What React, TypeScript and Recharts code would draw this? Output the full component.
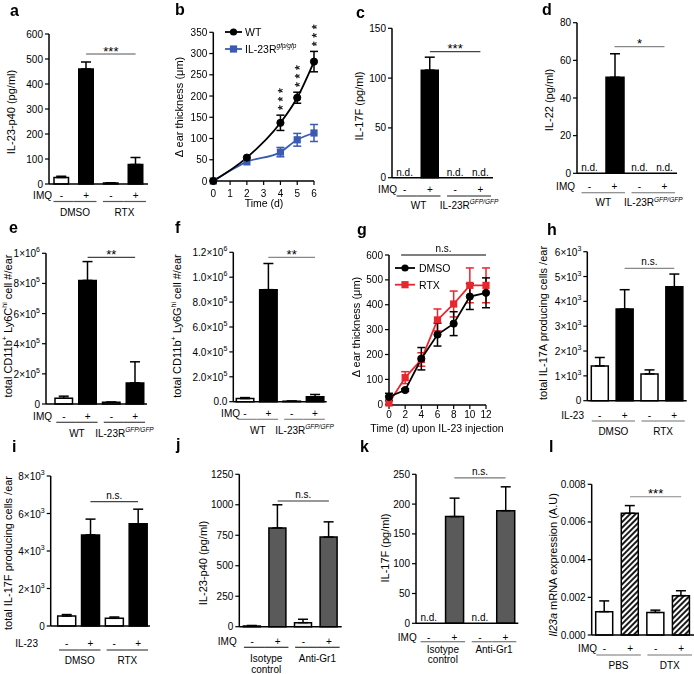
import React from 'react';
import {
  BarChart, Bar, XAxis, YAxis, ErrorBar, Cell, ReferenceLine,
  ComposedChart, Line, Legend,
} from 'recharts';

const W = 694;
const H = 674;
const YW = 30;
const XH = 30;
const FONT = '"Liberation Sans", Arial, Helvetica, sans-serif';
const BLUE = '#3b5bb3';
const RED = '#e8262d';
const DARK = '#5a5a5a';

// ---------------- data ----------------
const imqSigns = ['-', '+', '-', '+'];

// a
const aValues = [26, 460, 4, 78];
const aErrors = [5, 28, 1, 28];
const aTicks = [0, 100, 200, 300, 400, 500, 600];
const aGroups = ['DMSO', 'RTX'];
const aSig = 520;

// b
const bDays = [0, 2, 4, 5, 6];
const bWT = [0, 55, 137, 196, 281];
const bWTErr = [0, 0, 18, 13, 24];
const bKO = [0, 45, 68, 97, 113];
const bKOErr = [0, 0, 11, 15, 20];
const bStarBase = [null, null, 155, 209, 305];
const bXTicks = [0, 1, 2, 3, 4, 5, 6];
const bYTicks = [0, 50, 100, 150, 200, 250, 300, 350];

// c
const cValues = [0, 108, 0, 0];
const cErrors = [0, 13, 0, 0];
const cND = [true, false, true, true];
const cTicks = [0, 50, 100, 150];
const cSig = 126.5;

// d
const dValues = [0, 51, 0, 0];
const dErrors = [0, 12.5, 0, 0];
const dND = [true, false, true, true];
const dTicks = [0, 20, 40, 60, 80];
const dSig = 67.3;

// e
const eValues = [38000, 820000, 11000, 140000];
const eErrors = [14000, 125000, 2000, 140000];
const eTicks = [0, 200000, 400000, 600000, 800000, 1000000];
const eSig = 973000;

// f
const fValues = [25000, 900000, 4000, 40000];
const fErrors = [8000, 210000, 1000, 18000];
const fTicks = [0, 200000, 400000, 600000, 800000, 1000000, 1200000];
const fSig = 1160000;

// g
const gDays = [0, 2, 4, 6, 8, 10, 12];
const gDMSO = [30, 57, 183, 280, 324, 433, 448];
const gDMSOErr = [14, 5, 45, 46, 48, 52, 60];
const gRTX = [5, 107, 180, 339, 403, 478, 478];
const gRTXErr = [8, 24, 27, 44, 52, 70, 70];
const gXTicks = [0, 2, 4, 6, 8, 10, 12];
const gYTicks = [0, 100, 200, 300, 400, 500, 600];

// h
const hValues = [1400, 3690, 1080, 4590];
const hErrors = [340, 780, 160, 510];
const hTicks = [0, 1000, 2000, 3000, 4000, 5000, 6000];
const hSig = 5330;

// i
const iValues = [530, 4860, 410, 5450];
const iErrors = [80, 840, 70, 780];
const iTicks = [0, 2000, 4000, 6000, 8000];
const iSig = 6630;

// j
const jValues = [5, 810, 33, 735];
const jErrors = [5, 190, 28, 125];
const jTicks = [0, 250, 500, 750, 1000, 1250];
const jSig = 1031;

// k
const kValues = [0, 179, 0, 189];
const kErrors = [0, 31, 0, 40];
const kND = [true, false, true, false];
const kTicks = [0, 50, 100, 150, 200, 250];
const kSig = 244;

// l
const lValues = [0.00124, 0.00646, 0.0012, 0.00209];
const lErrors = [0.00057, 0.00041, 0.00012, 0.00026];
const lTicks = [0, 0.002, 0.004, 0.006, 0.008];
const lSig = 0.00734;

// ---------------- helpers ----------------
const TXT = { fontSize: 10, fontFamily: FONT, fill: '#000' };

const plainFmt = (v: number) => String(v);
const fixedFmt = (d: number) => (v: number) => v.toFixed(d);
const expFmt = (dec: number) => (v: number): React.ReactNode => {
  if (v === 0) return dec ? (0).toFixed(dec) : '0';
  const e = Math.floor(Math.log10(v) + 1e-9);
  const m = v / Math.pow(10, e);
  return (
    <>
      <tspan>{m.toFixed(dec)}×10</tspan>
      <tspan dy={-4} fontSize={7}>{e}</tspan>
    </>
  );
};

function RotLabel({ x, y, children }: any) {
  return (
    <text x={x} y={y} transform={`rotate(-90 ${x} ${y})`} textAnchor="middle"
      dominantBaseline="central" fontSize={11} fontFamily={FONT} fill="#000">
      {children}
    </text>
  );
}

const sigLabel = (text: string) => (lp: any) => {
  const vb = (lp && lp.viewBox) || {};
  const cx = (vb.x ?? 0) + (vb.width ?? 0) / 2;
  const cy = vb.y ?? 0;
  const star = text.includes('*');
  return (
    <text x={cx} y={star ? cy - 3 : cy - 6.5} textAnchor="middle" dominantBaseline="central"
      fontSize={star ? 13 : 10} fontFamily={FONT} fill="#000">{text}</text>
  );
};

type Group = { lines: string[]; sup?: string };
type BarLayout = {
  x0: number; x1: number; yTop: number; yBottom: number; padL: number; barSize: number;
  signDy: number; lineDy: number; labelDy: number; lineGap?: number; rowLabelX: number;
  yLabelX: number; yLabelY: number; lineColor: string;
};
type BarSpec = {
  values: number[]; errors: number[]; nd?: boolean[]; fills: string[];
  signs: string[]; rowLabel: string; groups: Group[];
  ticks: number[]; fmt: (v: number) => React.ReactNode; yLabel: React.ReactNode;
  sig: number; sigText: string; L: BarLayout; defs?: React.ReactNode;
};

function BarPanel({ s }: { s: BarSpec }) {
  const L = s.L;
  const data = s.values.map((v, i) => ({
    k: 'c' + i,
    v,
    err: s.errors[i] > 0 ? [0, s.errors[i]] : null,
  }));
  const band = (L.x1 - L.x0 - L.padL) / data.length;
  const ymax = s.ticks[s.ticks.length - 1];
  const XTick = (p: any) => {
    const { x, y, index } = p;
    const first = index % 2 === 0;
    const lx1 = first ? x - 0.32 * band : x - band / 2;
    const lx2 = first ? x + band / 2 : x + 0.42 * band;
    const g = first ? s.groups[index / 2] : null;
    return (
      <g>
        {s.nd && s.nd[index] && (
          <text x={x} y={y - 5.5} textAnchor="middle" dominantBaseline="central" {...TXT}>n.d.</text>
        )}
        {index === 0 && (
          <text x={L.rowLabelX} y={y + L.signDy} textAnchor="end" dominantBaseline="central" {...TXT}>{s.rowLabel}</text>
        )}
        <text x={x} y={y + L.signDy} textAnchor="middle" dominantBaseline="central" {...TXT}>{s.signs[index]}</text>
        <line x1={lx1} x2={lx2} y1={y + L.lineDy} y2={y + L.lineDy} stroke={L.lineColor} strokeWidth={1.2} />
        {g && g.lines.map((t, li) => (
          <text key={li} x={x + 0.55 * band} y={y + L.labelDy + li * (L.lineGap || 11)} textAnchor="middle"
            dominantBaseline="central" {...TXT}>
            {t}
            {li === 0 && g.sup ? <tspan dy={-4} fontSize={6.5} fontStyle="italic">{g.sup}</tspan> : null}
          </text>
        ))}
      </g>
    );
  };
  const YTick = (p: any) => (
    <text x={p.x} y={p.y} textAnchor="end" dominantBaseline="central" {...TXT}>{s.fmt(p.payload.value)}</text>
  );
  return (
    <div style={{ position: 'absolute', left: 0, top: 0 }}>
      <BarChart width={W} height={H} data={data} style={{ fontFamily: FONT }}
        margin={{ top: L.yTop, right: W - L.x1, bottom: H - L.yBottom - XH, left: L.x0 - YW }}>
        {s.defs}
        <XAxis dataKey="k" height={XH} tickLine={false} tickSize={0} tickMargin={0} interval={0}
          axisLine={{ stroke: '#000', strokeWidth: 1.5 }} padding={{ left: L.padL, right: 0 }} tick={XTick} />
        <YAxis width={YW} type="number" domain={[0, ymax]} ticks={s.ticks} interval={0} tickSize={4} tickMargin={2}
          tickLine={{ stroke: '#000', strokeWidth: 1.2 }} axisLine={{ stroke: '#000', strokeWidth: 1.5 }} tick={YTick}
          label={{ content: () => <RotLabel x={L.yLabelX} y={L.yLabelY}>{s.yLabel}</RotLabel> }} />
        <ReferenceLine segment={[{ x: 'c1', y: s.sig }, { x: 'c3', y: s.sig }]} stroke={L.lineColor}
          strokeWidth={1.2} ifOverflow="visible" label={{ content: sigLabel(s.sigText) }} />
        <Bar dataKey="v" barSize={L.barSize} stroke="#000" strokeWidth={1.5} isAnimationActive={false}>
          {data.map((d, i) => <Cell key={i} fill={s.fills[i]} />)}
          <ErrorBar dataKey="err" width={5} stroke="#000" strokeWidth={1.5} direction="y" />
        </Bar>
      </BarChart>
    </div>
  );
}

type Series = { name: string; sup?: string; vals: number[]; errs: number[]; color: string; shape: 'circle' | 'square' };
type LineLayout = {
  x0: number; x1: number; yTop: number; yBottom: number; tickDy: number; xLabelX: number; xLabelY: number;
  yLabelX: number; yLabelY: number; legendX: number; legendY: number; legendGap: number; iconLen: number; textX: number;
};
type LineSpec = {
  days: number[]; series: Series[]; legendOrder: number[]; stars?: (number | null)[];
  xTicks: number[]; yTicks: number[]; xLabel: string; yLabel: React.ReactNode;
  curve: 'linear' | 'monotone'; sig?: { x1: number; x2: number; y: number; text: string }; L: LineLayout;
};

const circleDot = (color: string) => (p: any) =>
  p.cx == null || p.cy == null ? <g key={'n' + p.index} /> : <circle key={'c' + p.index} cx={p.cx} cy={p.cy} r={3.6} fill={color} stroke={color} />;
const squareDot = (color: string) => (p: any) =>
  p.cx == null || p.cy == null ? <g key={'n' + p.index} /> : <rect key={'s' + p.index} x={p.cx - 3.6} y={p.cy - 3.6} width={7.2} height={7.2} fill={color} />;
// three significance stars stacked vertically: one text run turned upright
const starDot = (p: any) => {
  if (p.cx == null || p.cy == null || p.value == null) return <g key={'n' + p.index} />;
  const ox = Math.round(p.cx);
  const oy = p.cy - 5.2;
  return (
    <g key={'st' + p.index} opacity={0.999}>
      <text x={ox} y={oy + 2.7} transform={`rotate(-90 ${ox} ${oy})`} textAnchor="start"
        dominantBaseline="central" fontSize={12} letterSpacing={3.8} fontFamily={FONT}
        fill="#000" stroke="#000" strokeWidth={0.25}>***</text>
    </g>
  );
};

function LegendSvg({ items, L }: { items: Series[]; L: LineLayout }) {
  return (
    <svg width={130} height={L.legendGap * items.length + 8} style={{ display: 'block', overflow: 'visible' }}>
      {items.map((it, i) => {
        const cy = 8 + i * L.legendGap;
        const mx = L.iconLen / 2;
        return (
          <g key={i}>
            <line x1={0} x2={L.iconLen} y1={cy} y2={cy} stroke={it.color} strokeWidth={1.8} />
            {it.shape === 'circle'
              ? <circle cx={mx} cy={cy} r={3.6} fill={it.color} />
              : <rect x={mx - 3.6} y={cy - 3.6} width={7.2} height={7.2} fill={it.color} />}
            <text x={L.textX} y={cy} dominantBaseline="central" fontSize={10.5} fontFamily={FONT} fill="#000">
              {it.name}
              {it.sup ? <tspan dy={-4} fontSize={6.5} fontStyle="italic">{it.sup}</tspan> : null}
            </text>
          </g>
        );
      })}
    </svg>
  );
}

function LinePanel({ s }: { s: LineSpec }) {
  const L = s.L;
  const data = s.days.map((d, i) => {
    const o: any = { x: d };
    s.series.forEach((se, j) => {
      o['v' + j] = se.vals[i];
      o['e' + j] = se.errs[i] > 0 ? se.errs[i] : null;
    });
    if (s.stars) o.st = s.stars[i];
    return o;
  });
  const xmax = s.xTicks[s.xTicks.length - 1];
  const ymax = s.yTicks[s.yTicks.length - 1];
  const XTick = (p: any) => (
    <text x={p.x} y={p.y + L.tickDy} textAnchor="middle" dominantBaseline="central" {...TXT}>{p.payload.value}</text>
  );
  const YTick = (p: any) => (
    <text x={p.x} y={p.y} textAnchor="end" dominantBaseline="central" {...TXT}>{p.payload.value}</text>
  );
  return (
    <div style={{ position: 'absolute', left: 0, top: 0, willChange: 'transform' }}>
      <ComposedChart width={W} height={H} data={data} style={{ fontFamily: FONT }}
        margin={{ top: L.yTop, right: W - L.x1, bottom: H - L.yBottom - XH, left: L.x0 - YW }}>
        <XAxis type="number" dataKey="x" domain={[0, xmax]} ticks={s.xTicks} interval={0} height={XH}
          tickSize={4} tickMargin={2} tickLine={{ stroke: '#000', strokeWidth: 1.2 }}
          axisLine={{ stroke: '#000', strokeWidth: 1.5 }} tick={XTick}
          label={{ content: () => <text x={L.xLabelX} y={L.xLabelY} textAnchor="middle" dominantBaseline="central" {...TXT} fontSize={10.5}>{s.xLabel}</text> }} />
        <YAxis width={YW} type="number" domain={[0, ymax]} ticks={s.yTicks} interval={0} tickSize={4} tickMargin={2}
          tickLine={{ stroke: '#000', strokeWidth: 1.2 }} axisLine={{ stroke: '#000', strokeWidth: 1.5 }} tick={YTick}
          label={{ content: () => <RotLabel x={L.yLabelX} y={L.yLabelY}>{s.yLabel}</RotLabel> }} />
        {s.sig && (
          <ReferenceLine segment={[{ x: s.sig.x1, y: s.sig.y }, { x: s.sig.x2, y: s.sig.y }]} stroke="#000"
            strokeWidth={1.2} ifOverflow="visible" label={{ content: sigLabel(s.sig.text) }} />
        )}
        {s.series.map((se, j) => (
          <Line key={j} dataKey={'v' + j} type={s.curve} stroke={se.color} strokeWidth={1.8}
            dot={se.shape === 'circle' ? circleDot(se.color) : squareDot(se.color)} activeDot={false}
            isAnimationActive={false}>
            <ErrorBar dataKey={'e' + j} width={4} stroke={se.color} strokeWidth={1.5} direction="y" />
          </Line>
        ))}
        {s.stars && (
          <Line dataKey="st" stroke="none" dot={starDot} activeDot={false} isAnimationActive={false} legendType="none" />
        )}
        <Legend layout="vertical" align="center" verticalAlign="middle"
          wrapperStyle={{ left: L.legendX, top: L.legendY, width: 130 }}
          content={() => <LegendSvg items={s.legendOrder.map((i) => s.series[i])} L={L} />} />
      </ComposedChart>
    </div>
  );
}

// ---------------- panel specs ----------------
const wb = ['#fff', '#000', '#fff', '#000'];
const genoGroups: Group[] = [{ lines: ['WT'] }, { lines: ['IL-23R'], sup: 'GFP/GFP' }];
const dmsoGroups: Group[] = aGroups.map((g) => ({ lines: [g] }));
const grGroups: Group[] = [{ lines: ['Isotype', 'control'] }, { lines: ['Anti-Gr1'] }];

const hatchDefs = (
  <defs>
    <pattern id="hatchL" patternUnits="userSpaceOnUse" width={4} height={4} patternTransform="rotate(45)">
      <rect width={4} height={4} fill="#fff" />
      <line x1={1} y1={0} x2={1} y2={4} stroke="#000" strokeWidth={1.8} />
    </pattern>
  </defs>
);

const barSpecs: BarSpec[] = [
  {
    values: aValues, errors: aErrors, fills: wb, signs: imqSigns, rowLabel: 'IMQ', groups: dmsoGroups,
    ticks: aTicks, fmt: plainFmt, yLabel: 'IL-23-p40 (pg/ml)', sig: aSig, sigText: '***',
    L: { x0: 49, x1: 148, yTop: 34, yBottom: 184, padL: 0, barSize: 14.5, signDy: 11, lineDy: 17.5, labelDy: 28, rowLabelX: 52, yLabelX: 11, yLabelY: 112, lineColor: '#555' },
  },
  {
    values: cValues, errors: cErrors, nd: cND, fills: wb, signs: imqSigns, rowLabel: 'IMQ', groups: genoGroups,
    ticks: cTicks, fmt: plainFmt, yLabel: 'IL-17F (pg/ml)', sig: cSig, sigText: '***',
    L: { x0: 392, x1: 493, yTop: 28.3, yBottom: 177.7, padL: 0, barSize: 17, signDy: 11.6, lineDy: 18.3, labelDy: 27.3, rowLabelX: 397, yLabelX: 359, yLabelY: 106, lineColor: '#444' },
  },
  {
    values: dValues, errors: dErrors, nd: dND, fills: wb, signs: imqSigns, rowLabel: 'IMQ', groups: genoGroups,
    ticks: dTicks, fmt: plainFmt, yLabel: 'IL-22 (pg/ml)', sig: dSig, sigText: '*',
    L: { x0: 577, x1: 677, yTop: 22.7, yBottom: 173.3, padL: 0, barSize: 18, signDy: 13.4, lineDy: 19.4, labelDy: 29.4, rowLabelX: 575, yLabelX: 549, yLabelY: 100, lineColor: '#888' },
  },
  {
    values: eValues, errors: eErrors, fills: wb, signs: imqSigns, rowLabel: 'IMQ', groups: genoGroups,
    ticks: eTicks, fmt: expFmt(0),
    yLabel: (<>total CD11b<tspan dy={-4} fontSize={7}>+</tspan><tspan dy={4}> Ly6C</tspan><tspan dy={-4} fontSize={7}>hi</tspan><tspan dy={4}> cell #/ear</tspan></>),
    sig: eSig, sigText: '**',
    L: { x0: 46, x1: 147, yTop: 253.3, yBottom: 404, padL: 6, barSize: 17.5, signDy: 12.7, lineDy: 18.3, labelDy: 29.3, rowLabelX: 52, yLabelX: 8, yLabelY: 326, lineColor: '#444' },
  },
  {
    values: fValues, errors: fErrors, fills: wb, signs: imqSigns, rowLabel: 'IMQ', groups: genoGroups,
    ticks: fTicks, fmt: expFmt(1),
    yLabel: (<>total CD11b<tspan dy={-4} fontSize={7}>+</tspan><tspan dy={4}> Ly6G</tspan><tspan dy={-4} fontSize={7}>hi</tspan><tspan dy={4}> cell #/ear</tspan></>),
    sig: fSig, sigText: '**',
    L: { x0: 233.3, x1: 326.7, yTop: 252.3, yBottom: 401.7, padL: 0, barSize: 17.5, signDy: 11.6, lineDy: 17.6, labelDy: 28.3, rowLabelX: 240, yLabelX: 176.5, yLabelY: 326, lineColor: '#888' },
  },
  {
    values: hValues, errors: hErrors, fills: wb, signs: imqSigns, rowLabel: 'IL-23', groups: dmsoGroups,
    ticks: hTicks, fmt: expFmt(0), yLabel: 'total IL-17A producing cells /ear', sig: hSig, sigText: 'n.s.',
    L: { x0: 587.3, x1: 686.7, yTop: 251.7, yBottom: 400.7, padL: 0, barSize: 17, signDy: 14.3, lineDy: 20.3, labelDy: 31, rowLabelX: 584, yLabelX: 543, yLabelY: 323, lineColor: '#888' },
  },
  {
    values: iValues, errors: iErrors, fills: wb, signs: imqSigns, rowLabel: 'IL-23', groups: dmsoGroups,
    ticks: iTicks, fmt: expFmt(0), yLabel: 'total IL-17F producing cells /ear', sig: iSig, sigText: 'n.s.',
    L: { x0: 50.7, x1: 150, yTop: 476, yBottom: 626, padL: 4, barSize: 18, signDy: 17.3, lineDy: 24, labelDy: 34, rowLabelX: 38, yLabelX: 7.5, yLabelY: 553, lineColor: '#444' },
  },
  {
    values: jValues, errors: jErrors, fills: ['#e2e2e2', DARK, '#e8e8e8', DARK], signs: imqSigns, rowLabel: 'IMQ', groups: grGroups,
    ticks: jTicks, fmt: plainFmt, yLabel: 'IL-23-p40 (pg/ml)', sig: jSig, sigText: 'n.s.',
    L: { x0: 239.3, x1: 341.7, yTop: 474.3, yBottom: 626.7, padL: 0, barSize: 17, signDy: 15, lineDy: 20.6, labelDy: 31.6, lineGap: 11, rowLabelX: 236.7, yLabelX: 202.5, yLabelY: 563, lineColor: '#333' },
  },
  {
    values: kValues, errors: kErrors, nd: kND, fills: ['#e8e8e8', DARK, '#e8e8e8', DARK], signs: imqSigns, rowLabel: 'IMQ', groups: grGroups,
    ticks: kTicks, fmt: plainFmt, yLabel: 'IL-17F (pg/ml)', sig: kSig, sigText: 'n.s.',
    L: { x0: 416, x1: 518.3, yTop: 474.3, yBottom: 623.3, padL: 0, barSize: 18, signDy: 14, lineDy: 18.4, labelDy: 26.5, lineGap: 10, rowLabelX: 416.7, yLabelX: 385, yLabelY: 548, lineColor: '#777' },
  },
  {
    values: lValues, errors: lErrors, fills: ['#fff', 'url(#hatchL)', '#fff', 'url(#hatchL)'], signs: imqSigns, rowLabel: 'IMQ',
    groups: [{ lines: ['PBS'] }, { lines: ['DTX'] }],
    ticks: lTicks, fmt: fixedFmt(3),
    yLabel: (<><tspan fontStyle="italic">Il23a</tspan> mRNA expression (A.U)</>),
    sig: lSig, sigText: '***', defs: hatchDefs,
    L: { x0: 591.7, x1: 694, yTop: 484.3, yBottom: 635, padL: 0, barSize: 17, signDy: 13.3, lineDy: 20, labelDy: 30, rowLabelX: 597, yLabelX: 553, yLabelY: 565, lineColor: '#888' },
  },
];

const bSpec: LineSpec = {
  days: bDays,
  series: [
    { name: 'IL-23R', sup: 'gfp/gfp', vals: bKO, errs: bKOErr, color: BLUE, shape: 'square' },
    { name: 'WT', vals: bWT, errs: bWTErr, color: '#000', shape: 'circle' },
  ],
  legendOrder: [1, 0],
  stars: bStarBase,
  xTicks: bXTicks, yTicks: bYTicks, xLabel: 'Time (d)', yLabel: 'Δ ear thickness (μm)', curve: 'monotone',
  L: { x0: 213.3, x1: 314, yTop: 32.3, yBottom: 181, tickDy: 6, xLabelX: 264, xLabelY: 203, yLabelX: 179, yLabelY: 107, legendX: 225, legendY: 24, legendGap: 17, iconLen: 17, textX: 20 },
};

const gSpec: LineSpec = {
  days: gDays,
  series: [
    { name: 'RTX', vals: gRTX, errs: gRTXErr, color: RED, shape: 'square' },
    { name: 'DMSO', vals: gDMSO, errs: gDMSOErr, color: '#000', shape: 'circle' },
  ],
  legendOrder: [1, 0],
  xTicks: gXTicks, yTicks: gYTicks, xLabel: 'Time (d) upon IL-23 injection', yLabel: 'Δ ear thickness (μm)', curve: 'linear',
  sig: { x1: 1.5, x2: 12, y: 600, text: 'n.s.' },
  L: { x0: 389, x1: 486, yTop: 255, yBottom: 405, tickDy: 3.3, xLabelX: 437, xLabelY: 428.3, yLabelX: 356, yLabelY: 327, legendX: 395, legendY: 260.3, legendGap: 16.7, iconLen: 20, textX: 24 },
};

const letters: [string, number, number][] = [
  ['a', 10, 16], ['b', 175, 15], ['c', 356, 18], ['d', 542, 15],
  ['e', 9, 233], ['f', 175, 233], ['g', 357, 235], ['h', 547, 235],
  ['i', 12, 452], ['j', 176, 450], ['k', 360, 452], ['l', 549, 452],
];

export default function App() {
  return (
    <div style={{ position: 'absolute', left: 0, top: 0, width: W, height: H, overflow: 'hidden', background: '#fff' }}>
      {barSpecs.map((s, i) => <BarPanel key={i} s={s} />)}
      <LinePanel s={bSpec} />
      <LinePanel s={gSpec} />
      <svg width={W} height={H} style={{ position: 'absolute', left: 0, top: 0, pointerEvents: 'none' }}>
        {letters.map(([t, x, y]) => (
          <text key={t} x={x} y={y} fontSize={16} fontWeight="bold" fontFamily={FONT} fill="#000">{t}</text>
        ))}
      </svg>
    </div>
  );
}
